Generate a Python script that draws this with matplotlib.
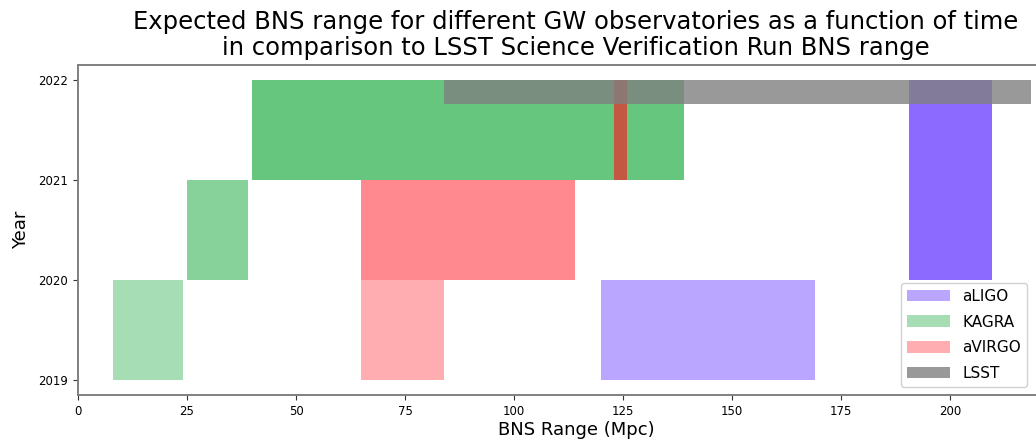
import matplotlib
matplotlib.use("Agg")
import matplotlib.pyplot as plt
from matplotlib.patches import Patch

# Expected BNS range (Mpc) per detector and observing period
detectors = ["KAGRA", "KAGRA", "KAGRA", "aVIRGO", "aVIRGO", "aVIRGO", "aLIGO", "aLIGO"]
year_start = [2019, 2020, 2021, 2019, 2020, 2021, 2019, 2020]
year_end = [2020, 2021, 2022, 2020, 2021, 2022, 2020, 2022]
range_min = [8, 25, 40, 65, 65, 123, 120, 190.5]
range_max = [24, 39, 139, 84, 114, 126, 169, 209.5]
alphas = [0.35, 0.47, 0.6, 0.35, 0.5, 0.62, 0.42, 0.7]

# LSST science verification run BNS range
lsst_min = 84
lsst_max = 218.5
lsst_years = (2021.76, 2022)

colors = {"aLIGO": "#5b2bff", "KAGRA": "#00a028", "aVIRGO": "#ff141e", "LSST": "#808080"}
legend_alpha = {"aLIGO": 0.42, "KAGRA": 0.35, "aVIRGO": 0.35, "LSST": 0.8}
legend_order = ["aLIGO", "KAGRA", "aVIRGO", "LSST"]
year_ticks = [2019, 2020, 2021, 2022]
range_ticks = [0, 25, 50, 75, 100, 125, 150, 175, 200]

fig = plt.figure(figsize=(10.36, 4.42), dpi=100)
# the original axes runs past the right edge of the (cropped) picture
ax = fig.add_axes([0.0753, 0.1063, 0.9614, 0.7466])

for det, y0, y1, x0, x1, a in zip(detectors, year_start, year_end, range_min, range_max, alphas):
    ax.barh(y0, x1 - x0, left=x0, height=y1 - y0, align="edge",
            color=colors[det], alpha=a, linewidth=0)

ax.barh(lsst_years[0], lsst_max - lsst_min, left=lsst_min,
        height=lsst_years[1] - lsst_years[0], align="edge",
        color=colors["LSST"], alpha=0.8, linewidth=0)

ax.set_xlim(0, 228.4)
ax.set_ylim(2018.85, 2022.15)
ax.set_yticks(year_ticks)
ax.set_yticklabels([str(y) for y in year_ticks])
ax.set_xticks(range_ticks)
ax.tick_params(labelsize=8.5, length=3.5, color="#333333")

for side in ["left", "bottom", "top"]:
    ax.spines[side].set_color("#808080")
    ax.spines[side].set_linewidth(1.4)
ax.spines["right"].set_visible(False)

ax.set_xlabel("BNS Range (Mpc)", fontsize=13, labelpad=2)
ax.set_ylabel("Year", fontsize=13, labelpad=6)
ax.set_title("Expected BNS range for different GW observatories as a function of time\n"
             "in comparison to LSST Science Verification Run BNS range",
             fontsize=17.5, pad=7, linespacing=1.1)

handles = [Patch(facecolor=colors[d], alpha=legend_alpha[d], label=d) for d in legend_order]
ax.legend(handles=handles, loc="lower right", bbox_to_anchor=(0.9913, 0.1244),
          bbox_transform=fig.transFigure, fontsize=11, framealpha=0.9,
          edgecolor="#cccccc", handlelength=2.8, handleheight=0.8,
          labelspacing=0.7, borderaxespad=0)

fig.savefig("out.png", dpi=100)
